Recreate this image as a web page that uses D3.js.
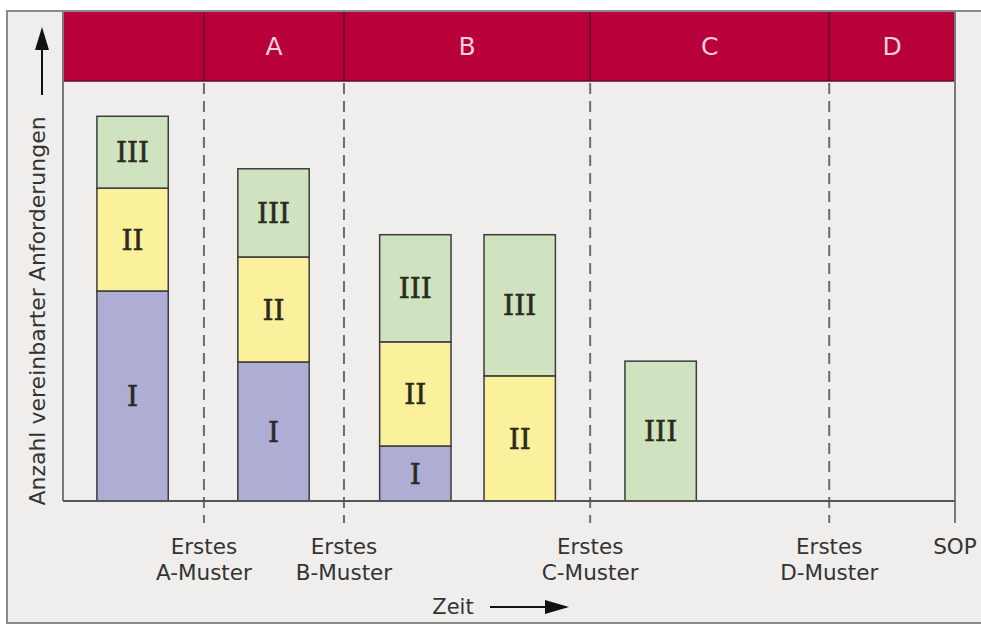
<!DOCTYPE html>
<html>
<head>
<meta charset="utf-8">
<script src="https://cdn.jsdelivr.net/npm/d3@7"></script>
<style>
  html, body { margin: 0; padding: 0; background: #ffffff; }
  svg { display: block; }
</style>
</head>
<body>
<script>
// Phase milestones on the time axis (0 = project start, 100 = SOP)
const milestones = [15.8, 31.5, 59.1, 85.9, 100];
const milestoneLines1 = ["Erstes", "Erstes", "Erstes", "Erstes", "SOP"];
const milestoneLines2 = ["A-Muster", "B-Muster", "C-Muster", "D-Muster", ""];
const phaseBounds = [0, 15.8, 31.5, 59.1, 85.9, 100];
const phaseNames = ["", "A", "B", "C", "D"];

// Review points and the number of agreed requirements per class
const barTimes = [7.8, 23.6, 39.5, 51.2, 67.0];
const classNames = ["I", "II", "III"];
const valuesI   = [50.0, 33.1, 13.1, 0, 0];
const valuesII  = [24.5, 25.0, 24.8, 29.8, 0];
const valuesIII = [17.1, 21.0, 25.5, 33.6, 33.3];

const colors = { I: "#aeadd3", II: "#fbf09b", III: "#cfe3c0" };

const W = 981, H = 626;
const svg = d3.select("body").append("svg").attr("width", W).attr("height", H);

// light panel with grey frame
svg.append("rect").attr("x", 7).attr("y", 11).attr("width", W + 10).attr("height", 612)
  .attr("fill", "#efeeec").attr("stroke", "#8a8a8a").attr("stroke-width", 2);

const x = d3.scaleLinear().domain([0, 100]).range([63, 955]);
const y = d3.scaleLinear().domain([0, 100]).range([501, 81]);
const barW = x(8) - x(0);

// crimson phase band
const bandTop = 12, bandBottom = 81;
svg.append("g").selectAll("rect").data(phaseNames).join("rect")
  .attr("x", (d, i) => x(phaseBounds[i]))
  .attr("y", bandTop)
  .attr("width", (d, i) => x(phaseBounds[i + 1]) - x(phaseBounds[i]))
  .attr("height", bandBottom - bandTop)
  .attr("fill", "#b8003a");
svg.append("line").attr("x1", x(0)).attr("x2", x(100)).attr("y1", bandBottom).attr("y2", bandBottom)
  .attr("stroke", "#6a0a26").attr("stroke-width", 1.5);
svg.append("g").selectAll("line").data(milestones.slice(0, 4)).join("line")
  .attr("x1", d => x(d)).attr("x2", d => x(d))
  .attr("y1", bandTop).attr("y2", bandBottom)
  .attr("stroke", "#5e0a22").attr("stroke-width", 1.5);
svg.append("g").selectAll("text").data(phaseNames).join("text")
  .attr("x", (d, i) => (x(phaseBounds[i]) + x(phaseBounds[i + 1])) / 2)
  .attr("y", 55)
  .attr("text-anchor", "middle")
  .attr("font-family", "DejaVu Sans, sans-serif")
  .attr("font-size", 25)
  .attr("fill", "#f6d3de")
  .text(d => d);

// milestone markers
svg.append("g").selectAll("line").data(milestones.slice(0, 4)).join("line")
  .attr("x1", d => x(d)).attr("x2", d => x(d))
  .attr("y1", bandBottom + 2).attr("y2", 523)
  .attr("stroke", "#6d6d6d").attr("stroke-width", 2)
  .attr("stroke-dasharray", "11,7");
svg.append("line").attr("x1", x(100)).attr("x2", x(100)).attr("y1", bandTop).attr("y2", 523)
  .attr("stroke", "#7a7a7a").attr("stroke-width", 2);

// value axis (left)
svg.append("line").attr("x1", x(0)).attr("x2", x(0)).attr("y1", bandTop).attr("y2", y(0))
  .attr("stroke", "#7a7a7a").attr("stroke-width", 2);

// stacked bars
const rows = barTimes.map((t, i) => ({ t, I: valuesI[i], II: valuesII[i], III: valuesIII[i] }));
const stack = d3.stack().keys(classNames)(rows);
const barG = svg.append("g");
stack.forEach(layer => {
  const key = layer.key;
  layer.forEach((seg, i) => {
    if (seg[1] - seg[0] <= 0) return;
    const t = rows[i].t;
    barG.append("rect")
      .attr("x", x(t) - barW / 2)
      .attr("y", y(seg[1]))
      .attr("width", barW)
      .attr("height", y(seg[0]) - y(seg[1]))
      .attr("fill", colors[key])
      .attr("stroke", "#3c3c3c").attr("stroke-width", 1.5);
    barG.append("text")
      .attr("x", x(t))
      .attr("y", (y(seg[0]) + y(seg[1])) / 2)
      .attr("dy", "0.36em")
      .attr("text-anchor", "middle")
      .attr("font-family", "DejaVu Serif, serif")
      .attr("font-size", 28)
      .attr("stroke", "#2a2a20").attr("stroke-width", 0.6)
      .attr("fill", "#2a2a20")
      .text(key);
  });
});

// time axis baseline
svg.append("line").attr("x1", x(0)).attr("x2", x(100)).attr("y1", y(0)).attr("y2", y(0))
  .attr("stroke", "#555555").attr("stroke-width", 2);

// milestone labels
const labFont = "DejaVu Sans, sans-serif";
const labG = svg.append("g").attr("font-family", labFont).attr("font-size", 21.5)
  .attr("fill", "#333333").attr("text-anchor", "middle");
labG.selectAll("text.l1").data(milestones).join("text").attr("class", "l1")
  .attr("x", d => x(d)).attr("y", 554).text((d, i) => milestoneLines1[i]);
labG.selectAll("text.l2").data(milestones).join("text").attr("class", "l2")
  .attr("x", d => x(d)).attr("y", 580).text((d, i) => milestoneLines2[i]);

// axis titles with arrows
svg.append("text").attr("x", 453).attr("y", 614).attr("text-anchor", "middle")
  .attr("font-family", labFont).attr("font-size", 21).attr("fill", "#333333").text("Zeit");
svg.append("line").attr("x1", 490).attr("x2", 550).attr("y1", 607).attr("y2", 607)
  .attr("stroke", "#111").attr("stroke-width", 2);
svg.append("path").attr("d", "M545,600 L569,607 L545,614 Z").attr("fill", "#111");

svg.append("text")
  .attr("transform", "translate(45,311) rotate(-90)")
  .attr("text-anchor", "middle")
  .attr("font-family", labFont).attr("font-size", 22).attr("fill", "#333333")
  .text("Anzahl vereinbarter Anforderungen");
svg.append("line").attr("x1", 42).attr("x2", 42).attr("y1", 95).attr("y2", 45)
  .attr("stroke", "#111").attr("stroke-width", 2);
svg.append("path").attr("d", "M35,50 L42,27 L49,50 Z").attr("fill", "#111");
</script>
</body>
</html>
